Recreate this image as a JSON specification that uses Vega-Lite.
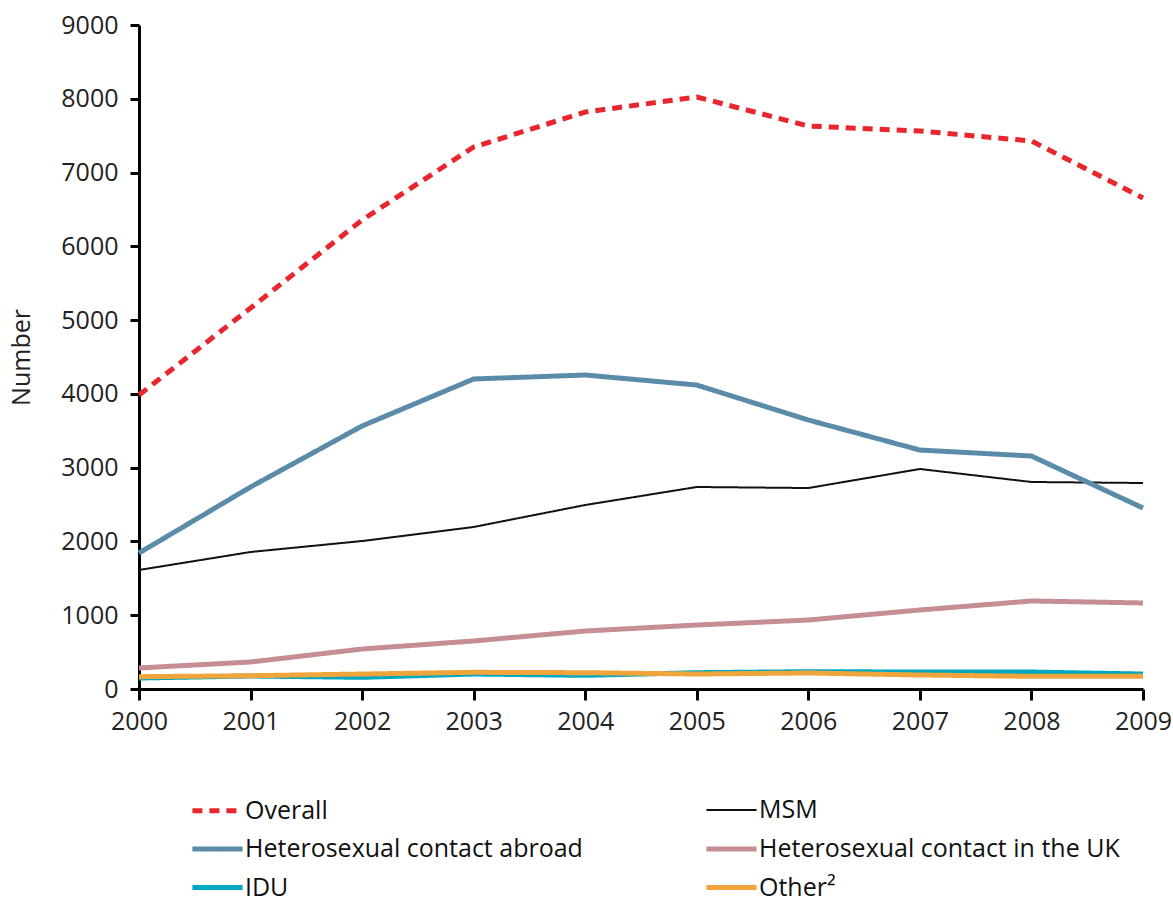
{
  "$schema": "https://vega.github.io/schema/vega-lite/v6.json",
  "width": 1004,
  "height": 664,
  "autosize": {"type": "none"},
  "padding": {"left": 139, "top": 25, "right": 30, "bottom": 211},
  "background": "white",
  "config": {
    "font": "Open Sans",
    "view": {"stroke": null},
    "axis": {"grid": false, "domainColor": "#000000", "tickColor": "#000000", "domainWidth": 3, "tickWidth": 3, "labelColor": "#222222", "labelFontSize": 25, "titleFontSize": 25, "titleFontWeight": "normal", "titleColor": "#222222"}
  },
  "data": {
    "values": [
      {"year": 2000, "group": "Overall", "n": 3985},
      {"year": 2001, "group": "Overall", "n": 5164},
      {"year": 2002, "group": "Overall", "n": 6357},
      {"year": 2003, "group": "Overall", "n": 7346},
      {"year": 2004, "group": "Overall", "n": 7820},
      {"year": 2005, "group": "Overall", "n": 8024},
      {"year": 2006, "group": "Overall", "n": 7631},
      {"year": 2007, "group": "Overall", "n": 7563},
      {"year": 2008, "group": "Overall", "n": 7428},
      {"year": 2009, "group": "Overall", "n": 6655},
      {"year": 2000, "group": "MSM", "n": 1613},
      {"year": 2001, "group": "MSM", "n": 1857},
      {"year": 2002, "group": "MSM", "n": 2006},
      {"year": 2003, "group": "MSM", "n": 2196},
      {"year": 2004, "group": "MSM", "n": 2494},
      {"year": 2005, "group": "MSM", "n": 2738},
      {"year": 2006, "group": "MSM", "n": 2724},
      {"year": 2007, "group": "MSM", "n": 2982},
      {"year": 2008, "group": "MSM", "n": 2806},
      {"year": 2009, "group": "MSM", "n": 2792},
      {"year": 2000, "group": "Heterosexual contact abroad", "n": 1843},
      {"year": 2001, "group": "Heterosexual contact abroad", "n": 2738},
      {"year": 2002, "group": "Heterosexual contact abroad", "n": 3565},
      {"year": 2003, "group": "Heterosexual contact abroad", "n": 4202},
      {"year": 2004, "group": "Heterosexual contact abroad", "n": 4256},
      {"year": 2005, "group": "Heterosexual contact abroad", "n": 4120},
      {"year": 2006, "group": "Heterosexual contact abroad", "n": 3646},
      {"year": 2007, "group": "Heterosexual contact abroad", "n": 3239},
      {"year": 2008, "group": "Heterosexual contact abroad", "n": 3158},
      {"year": 2009, "group": "Heterosexual contact abroad", "n": 2453},
      {"year": 2000, "group": "Heterosexual contact in the UK", "n": 285},
      {"year": 2001, "group": "Heterosexual contact in the UK", "n": 366},
      {"year": 2002, "group": "Heterosexual contact in the UK", "n": 542},
      {"year": 2003, "group": "Heterosexual contact in the UK", "n": 651},
      {"year": 2004, "group": "Heterosexual contact in the UK", "n": 786},
      {"year": 2005, "group": "Heterosexual contact in the UK", "n": 867},
      {"year": 2006, "group": "Heterosexual contact in the UK", "n": 935},
      {"year": 2007, "group": "Heterosexual contact in the UK", "n": 1071},
      {"year": 2008, "group": "Heterosexual contact in the UK", "n": 1193},
      {"year": 2009, "group": "Heterosexual contact in the UK", "n": 1166},
      {"year": 2000, "group": "IDU", "n": 149},
      {"year": 2001, "group": "IDU", "n": 176},
      {"year": 2002, "group": "IDU", "n": 158},
      {"year": 2003, "group": "IDU", "n": 203},
      {"year": 2004, "group": "IDU", "n": 185},
      {"year": 2005, "group": "IDU", "n": 221},
      {"year": 2006, "group": "IDU", "n": 235},
      {"year": 2007, "group": "IDU", "n": 230},
      {"year": 2008, "group": "IDU", "n": 230},
      {"year": 2009, "group": "IDU", "n": 203},
      {"year": 2000, "group": "Other²", "n": 167},
      {"year": 2001, "group": "Other²", "n": 180},
      {"year": 2002, "group": "Other²", "n": 203},
      {"year": 2003, "group": "Other²", "n": 226},
      {"year": 2004, "group": "Other²", "n": 221},
      {"year": 2005, "group": "Other²", "n": 203},
      {"year": 2006, "group": "Other²", "n": 217},
      {"year": 2007, "group": "Other²", "n": 190},
      {"year": 2008, "group": "Other²", "n": 172},
      {"year": 2009, "group": "Other²", "n": 172}
    ]
  },
  "mark": {"type": "line", "strokeCap": "butt"},
  "encoding": {
    "x": {
      "field": "year", "type": "quantitative",
      "scale": {"domain": [2000, 2009], "nice": false, "zero": false},
      "axis": {"title": null, "format": "d", "values": [2000,2001,2002,2003,2004,2005,2006,2007,2008,2009], "tickSize": 11, "labelPadding": 9, "labelFlush": false, "labelOverlap": false}
    },
    "y": {
      "field": "n", "type": "quantitative",
      "scale": {"domain": [0, 9000], "nice": false},
      "axis": {"title": "Number", "values": [0,1000,2000,3000,4000,5000,6000,7000,8000,9000], "format": "d", "tickSize": 9, "labelPadding": 12, "titlePadding": 26}
    },
    "color": {
      "field": "group", "type": "nominal",
      "scale": {
        "domain": ["Overall", "MSM", "Heterosexual contact abroad", "Heterosexual contact in the UK", "IDU", "Other²"],
        "range": ["#e8262e", "#111111", "#5a8ba8", "#c48e92", "#00a9bf", "#f0a53c"]
      },
      "legend": {
        "title": null, "orient": "none", "legendX": 57, "legendY": 764, "direction": "horizontal", "columns": 2,
        "symbolType": "M-1.32,0H1.32", "symbolSize": 1444, "symbolStrokeWidth": 5,
        "labelFontSize": 25, "labelColor": "#111111", "labelOffset": 6, "rowPadding": 3.5, "columnPadding": 113, "labelLimit": 500
      }
    },
    "strokeDash": {
      "field": "group", "type": "nominal",
      "scale": {
        "domain": ["Overall", "MSM", "Heterosexual contact abroad", "Heterosexual contact in the UK", "IDU", "Other²"],
        "range": [[10, 7], [1, 0], [1, 0], [1, 0], [1, 0], [1, 0]]
      },
      "legend": null
    },
    "strokeWidth": {
      "field": "group", "type": "nominal",
      "scale": {
        "type": "ordinal",
        "domain": ["Overall", "MSM", "Heterosexual contact abroad", "Heterosexual contact in the UK", "IDU", "Other²"],
        "range": [5, 2, 5, 5, 5, 5]
      },
      "legend": null
    }
  }
}
